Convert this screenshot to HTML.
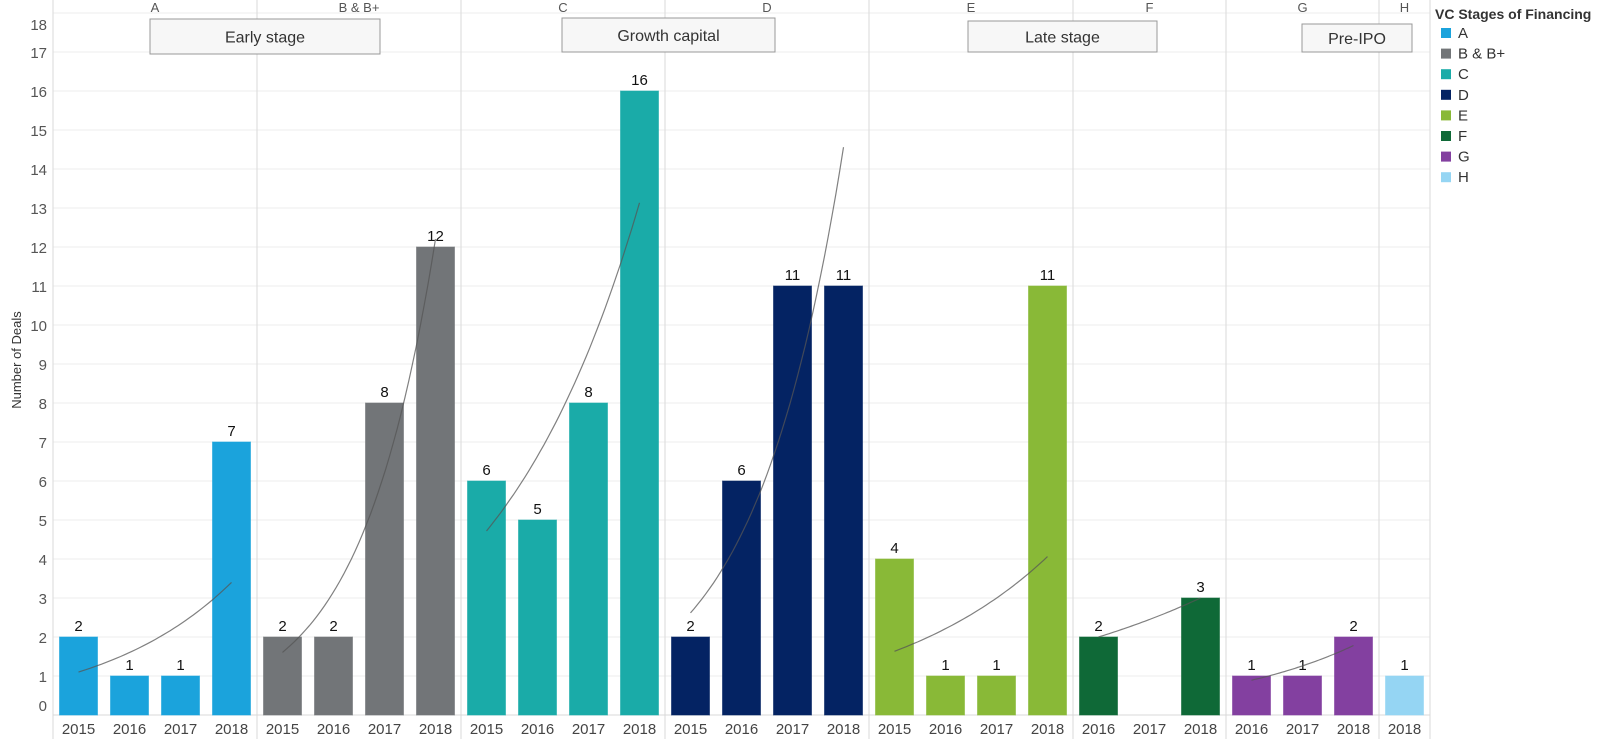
<!DOCTYPE html>
<html><head><meta charset="utf-8"><style>
body{margin:0;background:#fff;font-family:"Liberation Sans",sans-serif}
svg text{font-family:"Liberation Sans",sans-serif}
</style></head><body>
<svg id="chart" width="1600" height="739" xmlns="http://www.w3.org/2000/svg"></svg>
<script>
const stages=["A","B & B+","C","D","E","F","G","H"];
const stageYears=[["2015","2016","2017","2018"],["2015","2016","2017","2018"],["2015","2016","2017","2018"],["2015","2016","2017","2018"],["2015","2016","2017","2018"],["2016","2017","2018"],["2016","2017","2018"],["2018"]];
const valA=[2,1,1,7];
const valB=[2,2,8,12];
const valC=[6,5,8,16];
const valD=[2,6,11,11];
const valE=[4,1,1,11];
const valF=[2,null,3];
const valG=[1,1,2];
const valH=[1];
const colors=["#1ba3dc","#727578","#1aaba8","#042363","#89b937","#0f6937","#8340a0","#95d5f3"];
const yTicks=[0,1,2,3,4,5,6,7,8,9,10,11,12,13,14,15,16,17,18];
const groups=[{label:"Early stage",x1:150,x2:380,y1:19,y2:54},{label:"Growth capital",x1:562,x2:775,y1:18,y2:52},{label:"Late stage",x1:968,x2:1157,y1:21,y2:52},{label:"Pre-IPO",x1:1302,x2:1412,y1:24,y2:52}];
const vals=[valA,valB,valC,valD,valE,valF,valG,valH];

const svg=document.getElementById('chart');
const NS="http://www.w3.org/2000/svg";
const X0=53,SLOT=51,BASE=715,UNIT=39,BARW=38;
const y=v=>BASE-v*UNIT;
function mk(tag,attrs,parent){const e=document.createElementNS(NS,tag);for(const k in attrs)e.setAttribute(k,attrs[k]);(parent||svg).appendChild(e);return e;}

yTicks.forEach(t=>{
  const l=mk('line',{x1:X0,x2:1430,y1:y(t),y2:y(t),stroke:t===0?'#d9d9d9':'#eeeeee','stroke-width':1});
  
  
  let ty=y(t)+6; if(t===18)ty=y(t)+17; if(t===0)ty=y(t)-4;
  const tx=mk('text',{x:47,y:ty,'text-anchor':'end','font-size':15,fill:'#555'});
  tx.textContent=t;
  
  
});
const yt=mk('text',{x:0,y:0,transform:'translate(21,360) rotate(-90)','text-anchor':'middle','font-size':13,fill:'#333'});
yt.textContent='Number of Deals';


mk('line',{x1:X0,x2:X0,y1:0,y2:739,stroke:'#d9d9d9'});

let slot=0;
stages.forEach((s,si)=>{
  const px=X0+slot*SLOT, n=stageYears[si].length, pw=n*SLOT;
  const sep=mk('line',{x1:px+pw,x2:px+pw,y1:0,y2:739,stroke:'#d9d9d9'});
  
  
  const h=mk('text',{x:px+pw/2,y:12,'text-anchor':'middle','font-size':13,fill:'#555'});
  h.textContent=s;
  
  
  const pts=[];
  stageYears[si].forEach((yr,i)=>{
    const cx=px+i*SLOT+SLOT/2, v=vals[si][i];
    const yl=mk('text',{x:cx,y:734,'text-anchor':'middle','font-size':15,fill:'#444'});
    yl.textContent=yr;
    
    
    if(v==null)return;
    pts.push([i,v]);
    const r=mk('rect',{x:cx-BARW/2,y:y(v),width:BARW,height:v*UNIT,fill:colors[si],stroke:colors[si],'stroke-width':1,'stroke-opacity':0.6});
    
    
    const lb=mk('text',{x:cx,y:y(v)-6,'text-anchor':'middle','font-size':15,fill:'#111'});
    lb.textContent=v;
    
    
  });
  if(pts.length>=2){
    const n2=pts.length,mx=pts.reduce((a,p)=>a+p[0],0)/n2,my=pts.reduce((a,p)=>a+Math.log(p[1]),0)/n2;
    let sxy=0,sxx=0;pts.forEach(p=>{sxy+=(p[0]-mx)*(Math.log(p[1])-my);sxx+=(p[0]-mx)**2;});
    const b=sxy/sxx,a=my-b*mx;let d='';
    const i0=pts[0][0],i1=pts[n2-1][0];
    for(let k=0;k<=40;k++){const xi=i0+(i1-i0)*k/40;const xx=px+xi*SLOT+SLOT/2,yy=y(Math.exp(a+b*xi));d+=(k?'L':'M')+xx.toFixed(1)+' '+yy.toFixed(1);}
    const tl=mk('path',{d:d,fill:'none',stroke:'#555','stroke-opacity':0.75,'stroke-width':1.2});
    
    
  }
  slot+=n;
});
groups.forEach(g=>{
  const r=mk('rect',{x:g.x1,y:g.y1,width:g.x2-g.x1,height:g.y2-g.y1,fill:'#f7f7f7',stroke:'#999'});
  
  
  const t=mk('text',{x:(g.x1+g.x2)/2,y:(g.y1+g.y2)/2+6,'text-anchor':'middle','font-size':16,fill:'#333'});
  t.textContent=g.label;
  
  
});
const lt=mk('text',{x:1435,y:19,'font-size':14,'font-weight':'bold',fill:'#333'});
lt.textContent='VC Stages of Financing';


stages.forEach((s,i)=>{
  const yy=33+i*20.6;
  const sw=mk('rect',{x:1441,y:yy-5,width:10,height:10,fill:colors[i]});
  
  
  const t=mk('text',{x:1458,y:yy+5,'font-size':15,fill:'#333'});
  t.textContent=s;
  
  
});
</script>
</body></html>
